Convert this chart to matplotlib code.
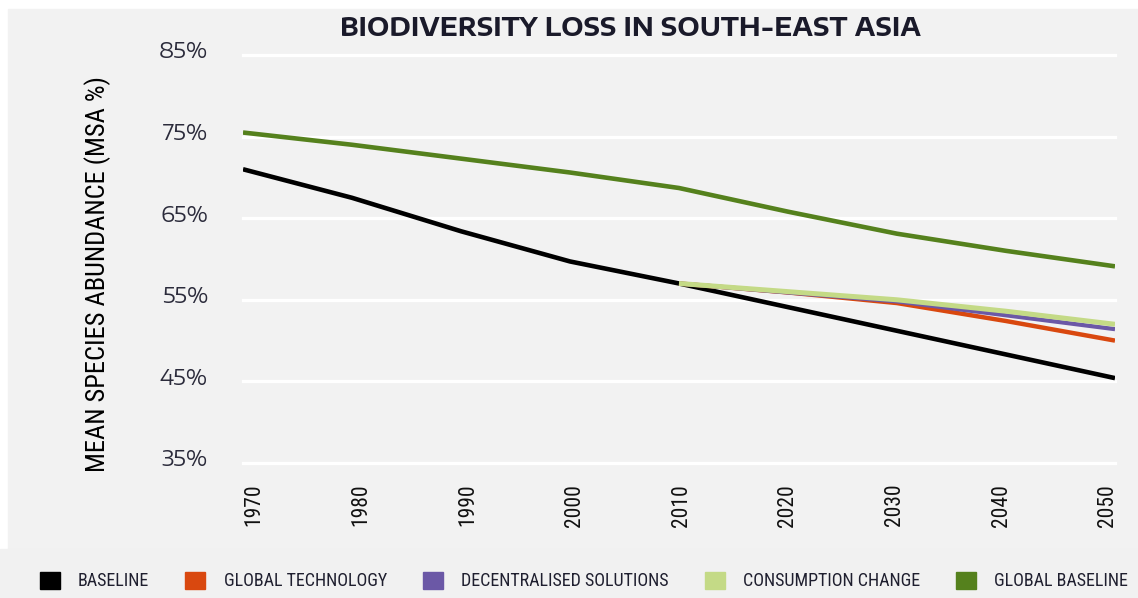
import matplotlib
matplotlib.use("Agg")
import matplotlib.pyplot as plt
import matplotlib.patches as patch
import matplotlib.transforms as mtrans
from matplotlib import font_manager

# data
years = [1970, 1980, 1990, 2000, 2010, 2020, 2030, 2040, 2050]
baseline = [71.0, 67.5, 63.4, 59.7, 57.0, 54.1, 51.2, 48.3, 45.4]
global_baseline = [75.5, 74.0, 72.3, 70.6, 68.7, 65.8, 63.1, 61.0, 59.1]

scenario_years = [2010, 2020, 2030, 2040, 2050]
global_technology = [57.0, 55.9, 54.6, 52.4, 50.0]
decentralised = [57.0, 55.9, 54.8, 53.1, 51.4]
consumption = [57.0, 56.0, 55.0, 53.6, 52.0]

y_ticks = [35, 45, 55, 65, 75, 85]
y_tick_labels = ["35%", "45%", "55%", "65%", "75%", "85%"]

names = ["BASELINE", "GLOBAL TECHNOLOGY", "DECENTRALISED SOLUTIONS",
         "CONSUMPTION CHANGE", "GLOBAL BASELINE"]
colors = ["#000000", "#d9480f", "#6b58a6", "#c4da86", "#55811d"]

available = set(f.name for f in font_manager.fontManager.ttflist)
narrow = "Roboto Condensed" if "Roboto Condensed" in available else "Roboto"
wide = "Encode Sans Expanded" if "Encode Sans Expanded" in available else "DejaVu Sans"

W, H = 1138, 598
fig = plt.figure(figsize=(W / 100, H / 100), dpi=100, facecolor="white")

# grey panels behind everything
fig.patches.append(patch.Rectangle((8 / W, 49 / H), 1 - 8 / W, 1 - 9 / H - 49 / H,
                                   transform=fig.transFigure, color="#f2f2f2", zorder=-10))
fig.patches.append(patch.Rectangle((0, 0), 1, 49 / H,
                                   transform=fig.transFigure, color="#f1f1f1", zorder=-10))

ax = fig.add_axes([243 / W, 1 - 463 / H, (1115 - 243) / W, (463 - 55) / H])
ax.patch.set_alpha(0)
for s in ax.spines.values():
    s.set_visible(False)

for v in y_ticks:
    ax.axhline(v, color="white", lw=2.3, zorder=1, clip_on=False)

ax.plot(years, baseline, color=colors[0], lw=3.3, zorder=3, solid_capstyle="butt")
ax.plot(scenario_years, global_technology, color=colors[1], lw=3.2, zorder=4, solid_capstyle="butt")
ax.plot(scenario_years, decentralised, color=colors[2], lw=3.0, zorder=5, solid_capstyle="butt")
ax.plot(scenario_years, consumption, color=colors[3], lw=3.6, zorder=6, solid_capstyle="butt")
ax.plot(years, global_baseline, color=colors[4], lw=3.3, zorder=7, solid_capstyle="butt")

ax.set_xlim(1970, 2050)
ax.set_ylim(35, 85)

ax.set_yticks(y_ticks)
ax.set_yticklabels(y_tick_labels, fontfamily=wide, fontsize=15.5, color="#2b2b3b")
ax.tick_params(axis="y", length=0, pad=25)
off = mtrans.ScaledTranslation(0, 5 / 100, fig.dpi_scale_trans)
for lab in ax.get_yticklabels():
    lab.set_transform(lab.get_transform() + off)

ax.set_xticks(years)
ax.set_xticklabels([str(y) for y in years], rotation=90, fontfamily=narrow,
                   fontsize=15.5, color="#111111")
ax.tick_params(axis="x", length=0, pad=15)
# the year labels sit a little right of their ticks at the left end
for i, lab in enumerate(ax.get_xticklabels()):
    dx = (11 - 2.25 * i) / 100
    lab.set_transform(lab.get_transform() + mtrans.ScaledTranslation(dx, 0, fig.dpi_scale_trans))

fig.text(98 / W, 1 - 274 / H, "MEAN SPECIES ABUNDANCE (MSA %)", rotation=90,
         ha="center", va="center", fontfamily=narrow, fontsize=19, color="black")

fig.text(631 / W, 1 - 29 / H, "BIODIVERSITY LOSS IN SOUTH-EAST ASIA",
         ha="center", va="center", fontfamily=wide, fontweight="bold",
         fontsize=18, color="#1a1a2a")

handles = [patch.Patch(color=c) for c in colors]
fig.legend(handles, names, loc="center left", bbox_to_anchor=(40 / W, 1 - 581 / H),
           ncol=5, frameon=False, borderpad=0, borderaxespad=0,
           prop={"family": narrow, "size": 13},
           handlelength=1.11, handleheight=1.11, handletextpad=1.0, columnspacing=2.0,
           labelcolor="#1f1f2f")

fig.savefig("out.png", dpi=100)
